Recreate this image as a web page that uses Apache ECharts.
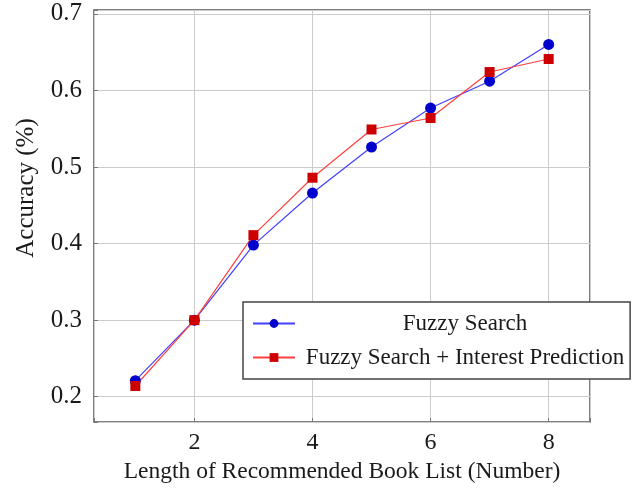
<!DOCTYPE html>
<html>
<head>
<meta charset="utf-8">
<script src="https://cdn.jsdelivr.net/npm/echarts@6/dist/echarts.min.js"></script>
<style>
  html, body { margin: 0; padding: 0; background: #fff; }
  #chart { width: 641px; height: 489px; }
</style>
</head>
<body>
<div id="chart"></div>
<script>
// ============ 数据 ============
const listLength = [1, 2, 3, 4, 5, 6, 7, 8]
const fuzzySearch = [0.221, 0.300, 0.398, 0.466, 0.526, 0.577, 0.612, 0.660]
const fuzzyInterest = [0.214, 0.300, 0.411, 0.486, 0.549, 0.564, 0.624, 0.641]
const seriesNames = ['Fuzzy Search', 'Fuzzy Search + Interest Prediction']

const FONT = '"Liberation Serif", "DejaVu Serif", serif'

const toPairs = (ys) => listLength.map((x, i) => [x, ys[i]])

const chart = echarts.init(document.getElementById('chart'))
chart.setOption({
  backgroundColor: '#fff',
  animation: false,
  grid: { left: 94, right: 51, top: 10, bottom: 67, show: true, borderColor: '#555', borderWidth: 1.5 },
  legend: {
    left: 243,
    top: 302,
    orient: 'vertical',
    itemWidth: 42,
    itemHeight: 11,
    itemGap: 11,
    padding: [10, 6, 10, 9],
    borderColor: '#444',
    borderWidth: 1.5,
    backgroundColor: '#fff',
    data: seriesNames,
    formatter: '{t|{name}}',
    textStyle: {
      rich: {
        t: { width: 314, height: 25, align: 'center', fontSize: 23, fontFamily: FONT, color: '#1a1a1a', padding: [0, 0, 0, 8] }
      }
    }
  },
  xAxis: {
    type: 'value',
    min: 0.3,
    max: 8.7,
    splitNumber: 5,
    name: 'Length of Recommended Book List (Number)',
    nameLocation: 'middle',
    nameGap: 38,
    nameTextStyle: { fontFamily: FONT, fontSize: 23.5, color: '#1a1a1a' },
    axisLine: { show: false },
    axisTick: { show: true, inside: true, length: 4, lineStyle: { color: '#777' } },
    axisLabel: {
      margin: 9,
      fontFamily: FONT,
      fontSize: 24,
      color: '#1a1a1a',
      formatter: (v) => (Number.isInteger(v) ? String(v) : '')
    },
    splitLine: { show: true, lineStyle: { color: '#ccc', width: 1 } }
  },
  yAxis: {
    type: 'value',
    min: 0.167,
    max: 0.705,
    splitNumber: 5,
    name: 'Accuracy (%)',
    nameLocation: 'middle',
    nameGap: 55,
    nameTextStyle: { fontFamily: FONT, fontSize: 25, color: '#1a1a1a', padding: [0, 0, 0, 56] },
    axisLine: { show: false },
    axisTick: { show: true, inside: true, length: 4, lineStyle: { color: '#777' } },
    axisLabel: {
      margin: 12,
      fontFamily: FONT,
      fontSize: 25,
      color: '#1a1a1a',
      formatter: (v) => (Math.abs(v * 10 - Math.round(v * 10)) < 1e-6 ? v.toFixed(1) : '')
    },
    splitLine: { show: true, lineStyle: { color: '#ccc', width: 1 } }
  },
  series: [
    {
      name: seriesNames[0],
      type: 'line',
      data: toPairs(fuzzySearch),
      symbol: 'circle',
      symbolSize: 11,
      lineStyle: { color: '#4040ff', width: 1.2 },
      itemStyle: { color: '#0000cc' }
    },
    {
      name: seriesNames[1],
      type: 'line',
      data: toPairs(fuzzyInterest),
      symbol: 'rect',
      symbolSize: 10,
      lineStyle: { color: '#ff4040', width: 1.2 },
      itemStyle: { color: '#cc0000' }
    }
  ]
})
</script>
</body>
</html>
